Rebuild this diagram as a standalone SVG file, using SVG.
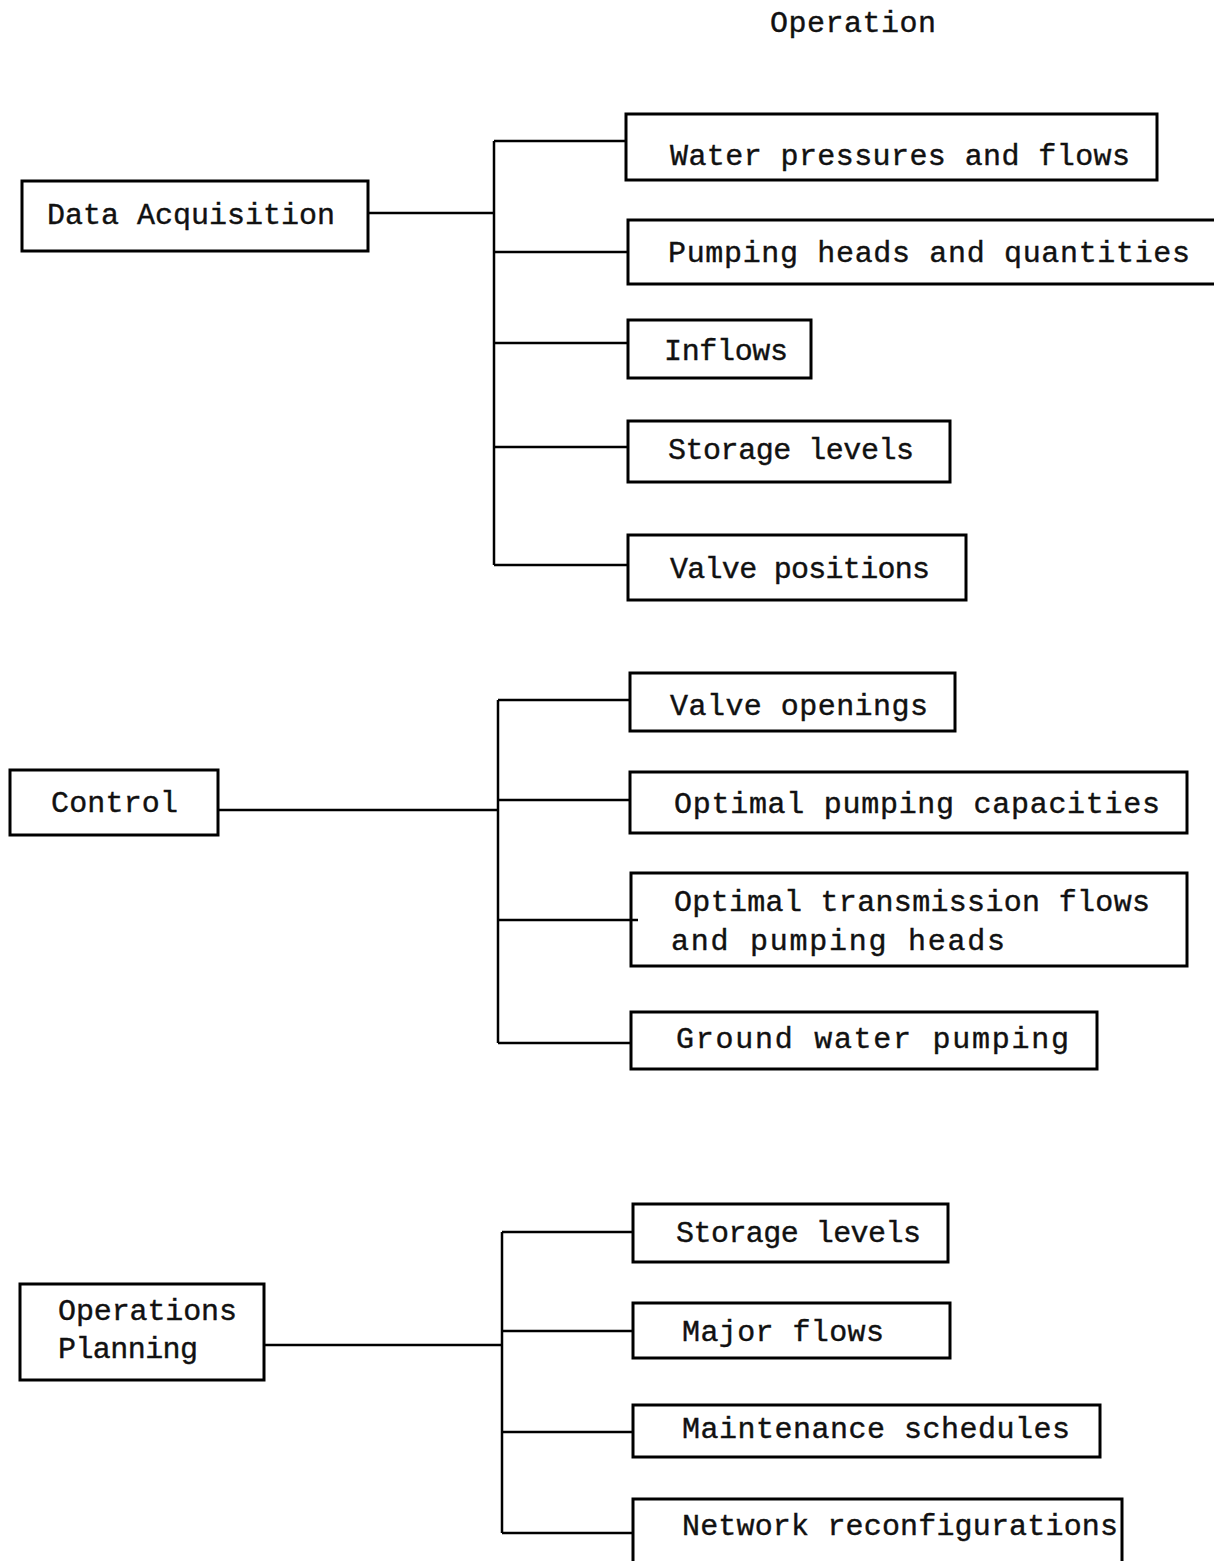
<svg xmlns="http://www.w3.org/2000/svg" width="1214" height="1561" viewBox="0 0 1214 1561">
<style>
.box{fill:none;stroke:#000;stroke-width:3}
.ln{fill:none;stroke:#000;stroke-width:2.5}
text{font-family:"Liberation Mono","DejaVu Sans Mono",monospace;font-size:30px;fill:#111;stroke:#111;stroke-width:0.4}
</style>
<rect width="1214" height="1561" fill="#fff"/>
<text x="770" y="32" textLength="166" lengthAdjust="spacing">Operation</text>
<g id="connectors">
<path class="ln" d="M368 213H494M494 141V565M494 141H626M494 252H628M494 343H628M494 447H628M494 565H628"/>
<path class="ln" d="M218 810H498M498 700V1043M498 700H630M498 800H630M498 920H638M498 1043H631"/>
<path class="ln" d="M264 1345H502M502 1232V1533M502 1232H633M502 1331H633M502 1432H633M502 1533H633"/>
</g>
<g id="n-data"><rect class="box" x="22" y="181" width="346" height="70"/><text x="47" y="224" textLength="288" lengthAdjust="spacing">Data Acquisition</text></g>
<g id="n-water"><rect class="box" x="626" y="114" width="531" height="66"/><text x="670" y="165" textLength="460" lengthAdjust="spacing">Water pressures and flows</text></g>
<g id="n-pumping"><rect class="box" x="628" y="220" width="600" height="64"/><text x="668" y="262" textLength="522" lengthAdjust="spacing">Pumping heads and quantities</text></g>
<g id="n-inflows"><rect class="box" x="628" y="320" width="183" height="58"/><text x="664" y="360" textLength="124" lengthAdjust="spacing">Inflows</text></g>
<g id="n-storage1"><rect class="box" x="628" y="421" width="322" height="61"/><text x="668" y="459" textLength="246" lengthAdjust="spacing">Storage levels</text></g>
<g id="n-valvepos"><rect class="box" x="628" y="535" width="338" height="65"/><text x="670" y="578" textLength="260" lengthAdjust="spacing">Valve positions</text></g>
<g id="n-control"><rect class="box" x="10" y="770" width="208" height="65"/><text x="51" y="812" textLength="127" lengthAdjust="spacing">Control</text></g>
<g id="n-valveopen"><rect class="box" x="630" y="673" width="325" height="58"/><text x="670" y="715" textLength="258" lengthAdjust="spacing">Valve openings</text></g>
<g id="n-optpump"><rect class="box" x="630" y="772" width="557" height="61"/><text x="674" y="813" textLength="486" lengthAdjust="spacing">Optimal pumping capacities</text></g>
<g id="n-opttrans"><rect class="box" x="631" y="873" width="556" height="93"/><text x="674" y="911" textLength="476" lengthAdjust="spacing">Optimal transmission flows</text><text x="671" y="950" textLength="334" lengthAdjust="spacing">and pumping heads</text></g>
<g id="n-ground"><rect class="box" x="631" y="1012" width="466" height="57"/><text x="676" y="1048" textLength="393" lengthAdjust="spacing">Ground water pumping</text></g>
<g id="n-opplan"><rect class="box" x="20" y="1284" width="244" height="96"/><text x="58" y="1320" textLength="179" lengthAdjust="spacing">Operations</text><text x="58" y="1358" textLength="140" lengthAdjust="spacing">Planning</text></g>
<g id="n-storage2"><rect class="box" x="633" y="1204" width="315" height="58"/><text x="676" y="1242" textLength="245" lengthAdjust="spacing">Storage levels</text></g>
<g id="n-major"><rect class="box" x="633" y="1303" width="317" height="55"/><text x="682" y="1341" textLength="202" lengthAdjust="spacing">Major flows</text></g>
<g id="n-maint"><rect class="box" x="633" y="1405" width="467" height="52"/><text x="682" y="1438" textLength="388" lengthAdjust="spacing">Maintenance schedules</text></g>
<g id="n-network"><rect class="box" x="633" y="1499" width="489" height="80"/><text x="682" y="1535" textLength="436" lengthAdjust="spacing">Network reconfigurations</text></g>
</svg>
